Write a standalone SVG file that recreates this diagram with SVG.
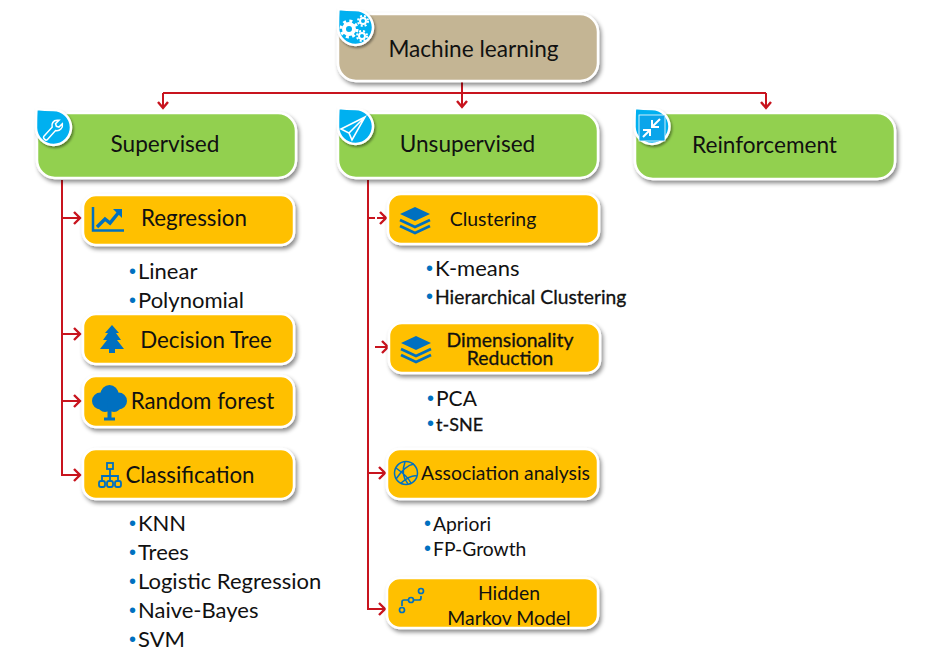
<svg xmlns="http://www.w3.org/2000/svg" xmlns:xlink="http://www.w3.org/1999/xlink" width="926" height="654" viewBox="0 0 926 654">
<style>
text{font-family:"Lato","Open Sans","Liberation Sans",sans-serif;fill:#111;}
.box{stroke:#fff;stroke-width:2.5;filter:url(#sh);}
.tan{fill:#c4b594}.green{fill:#92d050}.gold{fill:#ffc000}
.drop{fill:#00b0f0;stroke:#fff;stroke-width:2.5;filter:url(#sh2);}
.t{font-size:22.600px;text-anchor:middle}
.s{font-size:22.300px;text-anchor:middle}
.m{font-size:19.400px;text-anchor:middle}
.bd{stroke:#111;stroke-width:.3}
.li{font-size:22px}
.li2{font-size:19.300px}
.b{font-family:"Liberation Sans",sans-serif;font-size:20px;fill:#0070c0;stroke:none}
.conn{fill:none;stroke:#c8141e;stroke-width:2;}
.head{fill:none;stroke:#c8141e;stroke-width:2.4;}
.ic{fill:#0070c0;stroke:none}
.il{fill:none;stroke:#0070c0;stroke-width:2.2}
.wl{fill:none;stroke:#fff;stroke-width:2}
</style>
<defs>
<filter id="sh" x="-10%" y="-20%" width="125%" height="150%"><feDropShadow dx="2" dy="3" stdDeviation="2" flood-color="#000" flood-opacity="0.45"/></filter>
<filter id="sh2" x="-30%" y="-30%" width="170%" height="170%"><feDropShadow dx="1.5" dy="2" stdDeviation="1.2" flood-color="#000" flood-opacity="0.4"/></filter>
<path id="drop" d="M-17-19C-9-18-3-18 0-18A17.500 17.500 0 1 1-17.500 0C-17.500-7-17.500-13-17-19Z"/>
</defs>

<g id="connectors">
<path class="conn" d="M163 93H766M462 82V107M163 93V108M766 93V108"/>
<path class="head" d="M161 102l5 6 5-6" transform="translate(-3 0)"/>
<path class="head" d="M457 101l5 6 5-6M761 102l5 6 5-6"/>
<path class="conn" d="M62 180V475H80M62 218H80M62 334H80M62 401H80"/>
<path class="head" d="M74 212l6 6-6 6M74 328l6 6-6 6M74 395l6 6-6 6M74 469l6 6-6 6"/>
<path class="conn" d="M368 180V609H385M368 473H385"/>
<path class="conn" d="M368 218H375"/>
<path class="conn" d="M377 218H386M375 347H388"/>
<path class="head" d="M380 212l6 6-6 6M382 341l6 6-6 6M379 467l6 6-6 6M379 603l6 6-6 6"/>
</g>

<g id="machine-learning">
<rect class="box tan" x="338" y="14" width="260" height="67" rx="18"/>
<use class="drop" xlink:href="#drop" href="#drop" x="355.500" y="28"/>
<g class="wl"><circle cx="349" cy="29" r="5" stroke-width="4"/><circle cx="349" cy="29" r="8" stroke-width="3" stroke-dasharray="3 3.300"/><circle cx="363" cy="21" r="3" stroke-width="2"/><circle cx="363" cy="21" r="5" stroke-width="2" stroke-dasharray="2 2"/><circle cx="362" cy="36" r="3" stroke-width="2"/><circle cx="362" cy="36" r="5" stroke-width="2" stroke-dasharray="2 2"/></g>
<text class="t" x="473.500" y="57">Machine learning</text>
</g>

<g id="supervised">
<rect class="box green" x="37" y="113" width="259" height="65" rx="18"/>
<use class="drop" xlink:href="#drop" href="#drop" x="53.500" y="128"/>
<path class="wl" style="stroke-width:1.800" transform="translate(53 128) scale(.85) translate(-55 -125)" d="M44 135l10-11c-1-4 1-8 6-8l2 0-4 4 1 3 3 1 4-4c1 5-3 9-8 8l-10 11c-2 1-5-2-4-4z"/>
<text class="t" x="165" y="152">Supervised</text>
</g>

<g id="unsupervised">
<rect class="box green" x="338" y="113" width="260" height="65" rx="18"/>
<use class="drop" xlink:href="#drop" href="#drop" x="355.500" y="127"/>
<path class="wl" style="stroke-width:1.600" d="M365 117L341 129 349 133 352 140ZM349 133L365 117"/>
<text class="t" x="467.500" y="152">Unsupervised</text>
</g>

<g id="reinforcement">
<rect class="box green" x="635" y="113" width="260" height="66" rx="18"/>
<use class="drop" xlink:href="#drop" href="#drop" x="652" y="127"/>
<rect x="639" y="115" width="26" height="26" fill="#0aa5ea" stroke="#fff" stroke-width=".8"/>
<path class="wl" style="stroke-width:2" d="M660 119l-8 8M652 120v7h7M643 137l7-7M650 136v-6h-7"/>
<text class="t" x="764.500" y="153">Reinforcement</text>
</g>

<g id="regression">
<rect class="box gold" x="83" y="195" width="211" height="50" rx="13"/>
<path class="il" style="stroke-width:2.500" d="M93 207V230.500H124"/>
<path class="il" style="stroke-width:3.500" d="M97 227L105 219 110 223 119 212"/>
<path class="ic" d="M113 209H122V218Z"/>
<text class="s" x="194" y="226">Regression</text>
</g>
<g id="regression-items">
<text class="li" y="279"><tspan class="b" x="129" dy="-1">•</tspan><tspan x="138" dy="1">Linear</tspan></text>
<text class="li" y="308"><tspan class="b" x="129" dy="-1">•</tspan><tspan x="138" dy="1">Polynomial</tspan></text>
</g>

<g id="decision-tree">
<rect class="box gold" x="83" y="314" width="211" height="50" rx="13"/>
<path class="ic" d="M112 325L119 333H116L121 340H117L124 349H115V353H109V349H100L107 340H103L108 333H105Z"/>
<text class="s" x="206" y="348">Decision Tree</text>
</g>

<g id="random-forest">
<rect class="box gold" x="83" y="376" width="211" height="51" rx="13"/>
<g class="ic"><circle cx="100.500" cy="401" r="8.500"/><circle cx="118.500" cy="401" r="8.500"/><circle cx="109.500" cy="394" r="9"/><circle cx="105" cy="405" r="7"/><circle cx="114" cy="405" r="7"/><rect x="107.500" y="405" width="4" height="14"/><rect x="104" y="417.500" width="11" height="3"/></g>
<text class="s" x="202.500" y="409">Random forest</text>
</g>

<g id="classification">
<rect class="box gold" x="83" y="449" width="211" height="50" rx="13"/>
<g class="il" style="stroke-width:1.800">
<rect x="107" y="463" width="6" height="6"/><path d="M110 469V476M102 480V476H118V480M110 476V480"/>
<rect x="99" y="481" width="6" height="6" rx="2"/><rect x="107" y="481" width="6" height="6" rx="2"/><rect x="115" y="481" width="6" height="6" rx="2"/>
</g>
<text class="s" x="190" y="483">Classification</text>
</g>
<g id="classification-items">
<text class="li" y="531"><tspan class="b" x="129" dy="-1">•</tspan><tspan x="138" dy="1">KNN</tspan></text>
<text class="li" y="560"><tspan class="b" x="129" dy="-1">•</tspan><tspan x="138" dy="1">Trees</tspan></text>
<text class="li" y="589"><tspan class="b" x="129" dy="-1">•</tspan><tspan x="138" dy="1">Logistic Regression</tspan></text>
<text class="li" y="618"><tspan class="b" x="129" dy="-1">•</tspan><tspan x="138" dy="1">Naive-Bayes</tspan></text>
<text class="li" y="647"><tspan class="b" x="129" dy="-1">•</tspan><tspan x="138" dy="1">SVM</tspan></text>
</g>

<g id="clustering">
<rect class="box gold" x="388" y="194" width="211" height="50" rx="13"/>
<path class="ic" d="M415 207L430 214 415 221 400 214Z"/>
<path class="il" style="stroke-width:2.800" d="M400 220L415 227 430 220M400 226L415 233 430 226"/>
<text class="m" x="493" y="226">Clustering</text>
</g>
<g id="clustering-items">
<text class="li" y="276"><tspan class="b" x="426" dy="-1">•</tspan><tspan x="435" dy="1">K-means</tspan></text>
<text class="li2 bd" y="304"><tspan class="b" x="426" dy="-1">•</tspan><tspan x="435" dy="1">Hierarchical Clustering</tspan></text>
</g>

<g id="dimensionality-reduction">
<rect class="box gold" x="389" y="323" width="211" height="50" rx="13"/>
<path class="ic" d="M416 336L431 343 416 350 401 343Z"/>
<path class="il" style="stroke-width:2.800" d="M401 349L416 356 431 349M401 355L416 362 431 355"/>
<text class="m bd" x="510" y="347">Dimensionality</text>
<text class="m bd" x="510" y="365">Reduction</text>
</g>
<g id="dimensionality-items">
<text class="li" y="406" style="font-size:21px"><tspan class="b" x="427" dy="-1">•</tspan><tspan x="436" dy="1">PCA</tspan></text>
<text class="li2 bd" y="431" style="font-size:18px"><tspan class="b" x="427" dy="-1">•</tspan><tspan x="436" dy="1">t-SNE</tspan></text>
</g>

<g id="association-analysis">
<rect class="box gold" x="387" y="449" width="211" height="50" rx="13"/>
<g class="il" style="stroke-width:1.500">
<circle cx="406" cy="473" r="11.500"/>
<path d="M396 479C402 470 407 465 414 464M396 468C403 473 409 479 411 483M405 462C402 470 403 478 408 484M401 483C407 478 413 475 417 476"/>
</g>
<text class="m" x="505.500" y="480">Association analysis</text>
</g>
<g id="association-items">
<text class="li2" y="531"><tspan class="b" x="424" dy="-1">•</tspan><tspan x="433" dy="1">Apriori</tspan></text>
<text class="li2" y="556"><tspan class="b" x="424" dy="-1">•</tspan><tspan x="433" dy="1">FP-Growth</tspan></text>
</g>

<g id="hidden-markov-model">
<rect class="box gold" x="387" y="578" width="211" height="50" rx="13"/>
<g class="il" style="stroke-width:1.700">
<path d="M402 606V602Q402 600 404 600H409M414 600H419Q421 600 421 598V596"/>
<circle cx="402" cy="610" r="2.500"/><circle cx="411" cy="600" r="2.500"/><circle cx="421" cy="591" r="2.500"/>
</g>
<text class="m" x="509" y="600">Hidden</text>
<text class="m" x="509" y="625">Markov Model</text>
</g>
</svg>
